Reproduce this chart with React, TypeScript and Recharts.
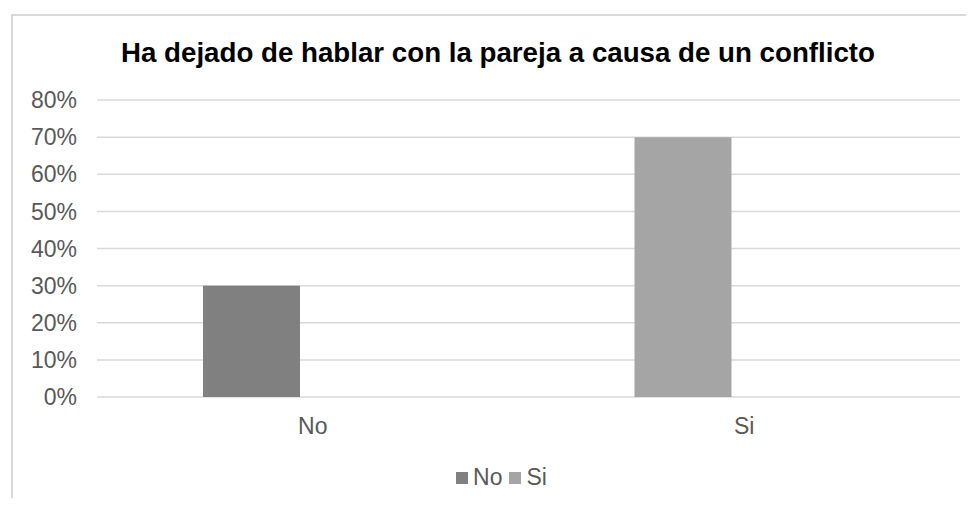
import { BarChart, Bar, XAxis, YAxis, CartesianGrid, Cell } from 'recharts'

const categories = ['No', 'Si']
const shares = [0.3, 0.7]
const emptySeries = [0, 0]
const yTicks = [0, 0.1, 0.2, 0.3, 0.4, 0.5, 0.6, 0.7, 0.8]
const legendLabels = ['No', 'Si']
const colors = ['#808080', '#a5a5a5']

const data = categories.map((c, i) => ({ name: c, share: shares[i], other: emptySeries[i] }))

const font = 'Arial, "Liberation Sans", sans-serif'

export default function App() {
  return (
    <div style={{ position: 'relative', width: 974, height: 506, margin: -8, background: '#fff', fontFamily: font, overflow: 'hidden' }}>
      {/* chart frame: only top and left edges are visible */}
      <div
        style={{
          position: 'absolute',
          left: 11,
          top: 14,
          width: 980,
          height: 510,
          borderTop: '2px solid #d9d9d9',
          borderLeft: '2px solid #d9d9d9',
        }}
      />
      <div
        style={{
          position: 'absolute',
          top: 37,
          left: 0,
          width: 996,
          textAlign: 'center',
          fontSize: 27.7,
          fontWeight: 'bold',
          color: '#000',
          whiteSpace: 'nowrap',
        }}
      >
        Ha dejado de hablar con la pareja a causa de un conflicto
      </div>
      <div style={{ position: 'absolute', left: 0, top: 0 }}>
        <BarChart
          width={974}
          height={506}
          data={data}
          margin={{ top: 100, right: 14, bottom: 79, left: 0 }}
          barSize={97}
          barGap={25}
        >
          <CartesianGrid vertical={false} stroke="#d9d9d9" strokeWidth={1.5} />
          <XAxis
            dataKey="name"
            axisLine={false}
            tickLine={false}
            height={30}
            tickSize={0}
            tickMargin={21}
            tick={{ fill: '#595959', fontSize: 23, fontFamily: font }}
          />
          <YAxis
            width={97}
            domain={[0, 0.8]}
            ticks={yTicks}
            interval={0}
            axisLine={false}
            tickLine={false}
            tickSize={0}
            tickMargin={20}
            tickFormatter={(v: number) => `${Math.round(v * 100)}%`}
            tick={{ fill: '#595959', fontSize: 23, fontFamily: font }}
          />
          <Bar dataKey="share" isAnimationActive={false}>
            {data.map((d, i) => (
              <Cell key={d.name} fill={colors[i]} />
            ))}
          </Bar>
          <Bar dataKey="other" fill="#a5a5a5" isAnimationActive={false} />
        </BarChart>
      </div>
      <div
        style={{
          position: 'absolute',
          top: 464,
          left: 0,
          width: 974,
          display: 'flex',
          justifyContent: 'center',
          paddingLeft: 36,
          boxSizing: 'border-box',
          fontSize: 23,
          color: '#595959',
        }}
      >
        {legendLabels.map((l, i) => (
          <span key={l} style={{ display: 'flex', alignItems: 'center', marginRight: 7 }}>
            <span style={{ display: 'inline-block', width: 12, height: 12, background: colors[i], marginRight: 5 }} />
            {l}
          </span>
        ))}
      </div>
    </div>
  )
}
